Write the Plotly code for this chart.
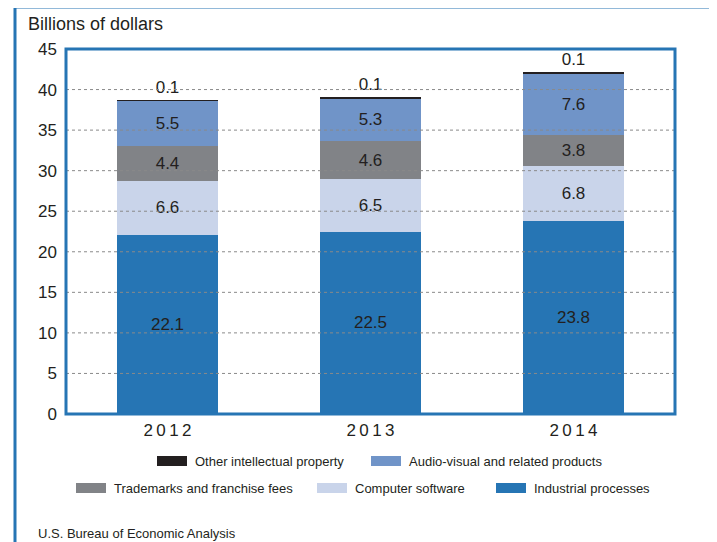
import plotly.graph_objects as go

years = ["2012", "2013", "2014"]
industrial = [22.1, 22.5, 23.8]
software = [6.6, 6.5, 6.8]
trademarks = [4.4, 4.6, 3.8]
audio_visual = [5.5, 5.3, 7.6]
other = [0.1, 0.1, 0.1]

names = ["Industrial processes", "Computer software", "Trademarks and franchise fees",
         "Audio-visual and related products", "Other intellectual property"]
colors = ["#2675b4", "#c9d4ea", "#818387", "#7094c8", "#231f20"]
series = [industrial, software, trademarks, audio_visual, other]

y_ticks = [0, 5, 10, 15, 20, 25, 30, 35, 40, 45]

# page body has an 8px margin, so screen coords = figure coords + 8
OFF = 8
W, H = 717, 542
L, T = 66 - OFF, 49 - OFF
R = W - (675 - OFF)
B = H - (414 - OFF)
pw, ph = W - L - R, H - T - B


def px(x):
    return (x - OFF - L) / pw


def py(y):
    return (H - B - (y - OFF)) / ph


dark = "#231f20"
blue = "#2675b4"

fig = go.Figure()
for name, vals, col in zip(names, series, colors):
    top = name == "Other intellectual property"
    fig.add_trace(go.Bar(
        x=years, y=vals, name=name, marker_color=col, marker_line_width=0,
        text=[f"{v:.1f}" for v in vals],
        textposition="outside" if top else "inside",
        insidetextanchor="middle", textangle=0, constraintext="none",
        textfont=dict(family="Liberation Sans, Arial", size=17, color=dark),
        cliponaxis=False, showlegend=False, width=0.5,
    ))

shapes = []
# dotted grid lines drawn above the bars
for v in y_ticks[1:-1]:
    shapes.append(dict(type="line", xref="paper", yref="y", x0=0, x1=1, y0=v, y1=v,
                       line=dict(color="#8a8a8a", width=1, dash="dot"), layer="above"))
# plot frame
shapes.append(dict(type="rect", xref="paper", yref="paper", x0=0, x1=1, y0=0, y1=1,
                   line=dict(color=blue, width=3), layer="above"))
# outer frame
shapes.append(dict(type="line", xref="paper", yref="paper", x0=px(15), x1=px(15),
                   y0=py(7), y1=py(560), line=dict(color=blue, width=3)))
shapes.append(dict(type="line", xref="paper", yref="paper", x0=px(15), x1=px(720),
                   y0=py(7), y1=py(7), line=dict(color=blue, width=3)))
shapes.append(dict(type="line", xref="paper", yref="paper", x0=px(716), x1=px(716),
                   y0=py(7), y1=py(560), line=dict(color="#8cc0e4", width=1)))

annotations = [
    dict(text="Billions of dollars", x=px(26), y=py(24), xref="paper", yref="paper",
         xanchor="left", yanchor="middle", showarrow=False,
         font=dict(family="Liberation Sans, Arial", size=18, color=dark)),
    dict(text="U.S. Bureau of Economic Analysis", x=px(36), y=py(533), xref="paper",
         yref="paper", xanchor="left", yanchor="middle", showarrow=False,
         font=dict(family="Liberation Sans, Arial", size=13, color=dark)),
]

# legend laid out as in the original (two rows, wide swatches)
legend_rows = [
    (461, [("Other intellectual property", 157), ("Audio-visual and related products", 371)]),
    (488, [("Trademarks and franchise fees", 76), ("Computer software", 317),
           ("Industrial processes", 496)]),
]
for ly, items in legend_rows:
    for name, lx in items:
        col = colors[names.index(name)]
        shapes.append(dict(type="rect", xref="paper", yref="paper", x0=px(lx), x1=px(lx + 30),
                           y0=py(ly + 5), y1=py(ly - 5), fillcolor=col, line=dict(width=0)))
        annotations.append(dict(text=name, x=px(lx + 36), y=py(ly), xref="paper", yref="paper",
                                xanchor="left", yanchor="middle", showarrow=False,
                                font=dict(family="Liberation Sans, Arial", size=13, color=dark)))

fig.update_layout(
    width=W, height=H, margin=dict(l=L, r=R, t=T, b=B),
    barmode="stack", paper_bgcolor="white", plot_bgcolor="white",
    shapes=shapes, annotations=annotations, showlegend=False,
)
fig.update_xaxes(
    tickvals=years, ticktext=["\u2009".join(y) for y in years],
    tickfont=dict(family="Liberation Sans, Arial", size=17, color=dark),
    showgrid=False, showline=False, ticks="", ticklabelstandoff=4,
)
fig.update_yaxes(
    range=[0, 45], tickvals=y_ticks, showgrid=False, zeroline=False, showline=False,
    tickfont=dict(family="Liberation Sans, Arial", size=17, color=dark),
    ticks="", ticklabelstandoff=8,
)

fig.write_html("out.html")
